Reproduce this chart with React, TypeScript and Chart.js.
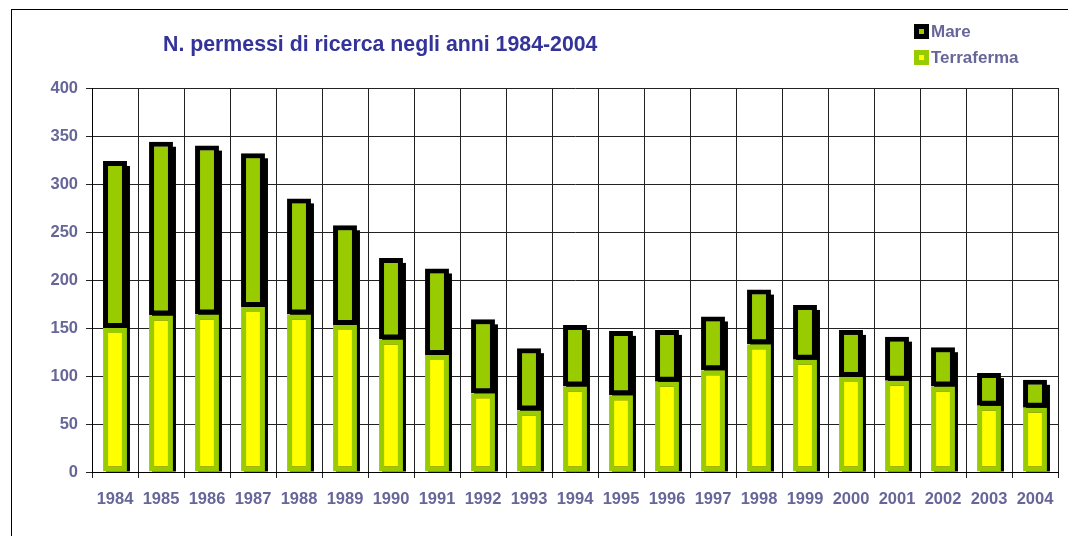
import React, { useEffect, useRef } from "react";
import { Chart, registerables } from "chart.js";

Chart.register(...registerables);

const years = ["1984","1985","1986","1987","1988","1989","1990","1991","1992","1993","1994","1995","1996","1997","1998","1999","2000","2001","2002","2003","2004"];
const terraferma = [150, 163, 164, 172, 164, 153, 138, 122, 82, 64, 89, 80, 94, 106, 133, 117, 99, 95, 89, 69, 67];
const mare = [174, 181, 176, 160, 121, 104, 85, 90, 77, 65, 64, 67, 54, 56, 57, 57, 49, 46, 41, 34, 29];
const yTicks = [0, 50, 100, 150, 200, 250, 300, 350, 400];
const titleText = "N. permessi di ricerca negli anni 1984-2004";

const shadowPlugin = {
  id: "barShadow",
  beforeDatasetsDraw(chart: any) {
    const ctx = chart.ctx;
    const a = chart.chartArea;
    const mT = chart.getDatasetMeta(0);
    const mM = chart.getDatasetMeta(1);
    ctx.save();
    ctx.beginPath();
    ctx.rect(a.left, a.top, a.right - a.left, a.bottom - a.top);
    ctx.clip();
    ctx.fillStyle = "#000";
    for (let i = 0; i < years.length; i++) {
      const eT = mT.data[i];
      const eM = mM.data[i];
      if (!eT || !eM) continue;
      const w = eM.width;
      const left = eM.x - w / 2 + 3;
      const top = eM.y + 5;
      const bottom = eT.base;
      ctx.fillRect(left, top, w, bottom - top);
    }
    ctx.restore();
  },
};

export default function App() {
  const ref = useRef<HTMLCanvasElement | null>(null);
  useEffect(() => {
    if (!ref.current) return;
    const tickFont = { family: "Arial, 'Liberation Sans', sans-serif", size: 16.5, weight: "bold" as const };
    const chart = new Chart(ref.current, {
      type: "bar",
      data: {
        labels: years,
        datasets: [
          {
            label: "Terraferma",
            data: terraferma,
            backgroundColor: "#FFFF00",
            borderColor: "#99CC00",
            borderWidth: 5,
            borderSkipped: false,
          },
          {
            label: "Mare",
            data: mare,
            backgroundColor: "#99CC00",
            borderColor: "#000000",
            borderWidth: 5,
            borderSkipped: false,
          },
        ],
      },
      options: {
        animation: false,
        responsive: false,
        maintainAspectRatio: false,
        events: [],
        layout: { padding: { top: 88, right: 10, bottom: 24, left: 0 } },
        datasets: { bar: { categoryPercentage: 1, barPercentage: 0.52 } },
        plugins: { legend: { display: false }, title: { display: false }, tooltip: { enabled: false } },
        scales: {
          x: {
            stacked: true,
            grid: { color: "#222", lineWidth: 1, tickLength: 6, offset: true },
            border: { color: "#000", width: 1 },
            ticks: {
              color: "#666699",
              font: tickFont,
              padding: 12,
              maxRotation: 0,
              autoSkip: false,
            },
            afterFit: (s: any) => { s.height = 40; },
          },
          y: {
            stacked: true,
            min: 0,
            max: 400,
            afterBuildTicks: (s: any) => { s.ticks = yTicks.map((v) => ({ value: v })); },
            grid: { color: "#222", lineWidth: 1, tickLength: 6 },
            border: { color: "#000", width: 1 },
            ticks: {
              color: "#666699",
              font: tickFont,
              padding: 8,
            },
            afterFit: (s: any) => { s.width = 92; },
          },
        },
      },
      plugins: [shadowPlugin],
    });
    return () => chart.destroy();
  }, []);

  const font = "Arial, 'Liberation Sans', sans-serif";
  const legendText: React.CSSProperties = {
    position: "absolute",
    fontFamily: font,
    fontWeight: "bold",
    fontSize: 17,
    color: "#666699",
    lineHeight: "18px",
  };
  return (
    <div style={{ position: "fixed", left: 0, top: 0, width: 1068, height: 536, overflow: "hidden", background: "#fff" }}>
      <canvas ref={ref} width={1068} height={536} style={{ position: "absolute", left: 0, top: 0, width: 1068, height: 536 }} />
      <div style={{ position: "absolute", left: 11, top: 9, width: 1200, height: 700, borderLeft: "1.5px solid #000", borderTop: "1.5px solid #000", pointerEvents: "none" }} />
      <div style={{ position: "absolute", left: 163, top: 32, fontFamily: font, fontWeight: "bold", fontSize: 21.3, color: "#333399", whiteSpace: "nowrap", lineHeight: "24px" }}>
        {titleText}
      </div>
      <div style={{ position: "absolute", left: 914, top: 24, width: 15, height: 15, background: "#000", boxSizing: "border-box" }}>
        <div style={{ position: "absolute", left: 5, top: 5, width: 5, height: 5, background: "#99CC00" }} />
      </div>
      <div style={{ ...legendText, left: 931, top: 23 }}>Mare</div>
      <div style={{ position: "absolute", left: 914, top: 50, width: 15, height: 15, background: "#99CC00" }}>
        <div style={{ position: "absolute", left: 5, top: 5, width: 5, height: 5, background: "#FFFF00" }} />
      </div>
      <div style={{ ...legendText, left: 931, top: 49 }}>Terraferma</div>
    </div>
  );
}
